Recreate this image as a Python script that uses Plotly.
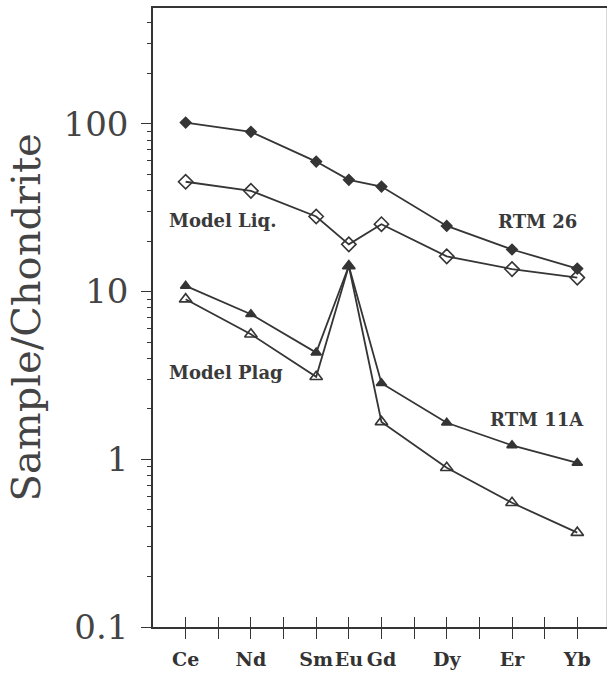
import plotly.graph_objects as go

# REE positions (index along the lanthanide series, La = 0)
ree_all = ["La", "Ce", "Pr", "Nd", "Pm", "Sm", "Eu", "Gd", "Tb", "Dy", "Ho", "Er", "Tm", "Yb"]
elements = ["Ce", "Nd", "Sm", "Eu", "Gd", "Dy", "Er", "Yb"]

rtm26 = [101.6, 89.5, 59.5, 46.3, 42.2, 24.6, 17.8, 13.7]
model_liq = [45.1, 39.8, 28.0, 19.1, 25.2, 16.2, 13.6, 12.1]
rtm11a = [10.8, 7.32, 4.32, 14.2, 2.84, 1.65, 1.21, 0.95]
model_plag = [9.0, 5.56, 3.10, 14.2, 1.67, 0.89, 0.55, 0.365]

y_tickvals = [0.1, 1, 10, 100]
y_ticktext = ["0.1", "1", "10", "100"]

xpos = [ree_all.index(e) for e in elements]
tick_idx = list(range(1, 14))
tick_txt = [e if e in elements else "" for e in ree_all[1:]]

ink = "#353535"
fig = go.Figure()

def add(vals, symbol, size, name):
    fig.add_trace(go.Scatter(
        x=xpos, y=vals, mode="lines+markers", name=name,
        line=dict(color=ink, width=1.8),
        marker=dict(symbol=symbol, size=size, color=ink,
                    line=dict(color=ink, width=1.6)),
        showlegend=False, hoverinfo="skip"))

add(rtm26, "diamond", 8, "RTM 26")
add(model_liq, "diamond-open", 11, "Model Liq.")
add(rtm11a, "triangle-up", 9, "RTM 11A")
add(model_plag, "triangle-up-open", 11, "Model Plag")

# helper trace for overlay axes (inner half of crossing x ticks, faint right border)
fig.add_trace(go.Scatter(x=[None], y=[None], xaxis="x2", yaxis="y2",
                         showlegend=False, hoverinfo="skip"))

lab_font = dict(family="DejaVu Serif", size=18, color="#3a3a3a", weight="bold")
ann = [
    ("Model Liq.", 0.44, 1.421, "left"),
    ("RTM 26", 13.05, 1.415, "right"),
    ("Model Plag", 0.44, 0.516, "left"),
    ("RTM 11A", 13.26, 0.2385, "right"),
]
for t, x, y, xa in ann:
    fig.add_annotation(text=t, x=x, y=y, xref="x", yref="y", xanchor=xa,
                       yanchor="middle", showarrow=False, font=lab_font)

fig.add_annotation(text="Sample/Chondrite", xref="paper", yref="paper",
                   x=0, y=0.5, xshift=-128, textangle=-90, showarrow=False,
                   xanchor="center", yanchor="middle",
                   font=dict(family="DejaVu Serif", size=40, color="#444"))

xr = [0, 13.88]
yr = [-1, 2.69]
fig.update_layout(
    width=607, height=678,
    margin=dict(l=153, r=1, t=8, b=51, autoexpand=False),
    paper_bgcolor="white", plot_bgcolor="white",
    xaxis=dict(range=xr, tickmode="array", tickvals=tick_idx, ticktext=tick_txt,
               automargin=False, tickangle=0,
               ticks="outside", ticklen=10, tickwidth=1.3, tickcolor=ink,
               showline=True, linecolor=ink, linewidth=1.5, mirror=True,
               showgrid=False, zeroline=False,
               tickfont=dict(family="DejaVu Serif", size=19, color="#333", weight="bold"),
               ticklabelstandoff=4),
    xaxis2=dict(range=xr, overlaying="x", anchor="y", side="bottom",
                automargin=False,
                tickmode="array", tickvals=tick_idx, ticks="inside", ticklen=10,
                tickwidth=1.3, tickcolor=ink, showticklabels=False,
                showline=False, showgrid=False, zeroline=False),
    yaxis=dict(type="log", range=yr, tickmode="array", tickvals=y_tickvals,
               automargin=False,
               ticktext=y_ticktext, ticks="outside", ticklen=10, tickwidth=1.3,
               tickcolor=ink, showline=True, linecolor=ink, linewidth=1.5,
               showgrid=False, zeroline=False,
               minor=dict(ticks="outside", ticklen=4, tickcolor=ink, tickwidth=1,
                          dtick="D1", showgrid=False),
               tickfont=dict(family="DejaVu Serif", size=34, color="#444"),
               ticklabelstandoff=6),
    yaxis2=dict(type="log", range=yr, overlaying="y", anchor="x", side="right",
                automargin=False,
                showline=True, linecolor="#d8d8d8", linewidth=1,
                showticklabels=False, ticks="", showgrid=False, zeroline=False),
)

fig.write_html("out.html", config={"displayModeBar": False},
               post_script="document.body.style.margin='0';document.body.style.overflow='hidden';")
